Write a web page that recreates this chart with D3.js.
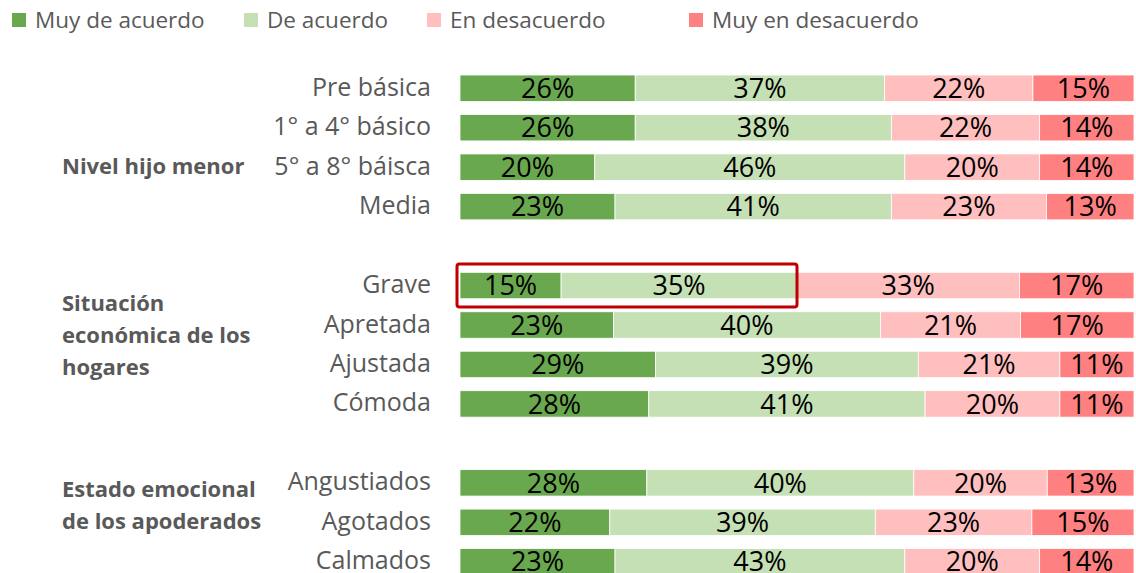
<!DOCTYPE html>
<html>
<head>
<meta charset="utf-8">
<script src="https://cdn.jsdelivr.net/npm/d3@7"></script>
<style>
  body { margin: 0; background: #fff; }
  svg { display: block; font-family: 'Open Sans', sans-serif; }
</style>
</head>
<body>
<script>
const width = 1136
const height = 573

// data
const series = ['Muy de acuerdo', 'De acuerdo', 'En desacuerdo', 'Muy en desacuerdo']
const colors = ['#6AA84F', '#C5E0B4', '#FFBFBF', '#FF8080']

const categories = ['Pre básica', '1° a 4° básico', '5° a 8° báisca', 'Media',
  'Grave', 'Apretada', 'Ajustada', 'Cómoda',
  'Angustiados', 'Agotados', 'Calmados']
const groupOf = [0, 0, 0, 0, 1, 1, 1, 1, 2, 2, 2]
const groupLabels = [
  ['Nivel hijo menor'],
  ['Situación', 'económica de los', 'hogares'],
  ['Estado emocional', 'de los apoderados']
]

const muyDeAcuerdo = [26, 26, 20, 23, 15, 23, 29, 28, 28, 22, 23]
const deAcuerdo = [37, 38, 46, 41, 35, 40, 39, 41, 40, 39, 43]
const enDesacuerdo = [22, 22, 20, 23, 33, 21, 21, 20, 20, 23, 20]
const muyEnDesacuerdo = [15, 14, 14, 13, 17, 17, 11, 11, 13, 15, 14]

const highlighted = 'Grave'

const rows = categories.map((c, i) => ({
  name: c,
  group: groupOf[i],
  [series[0]]: muyDeAcuerdo[i],
  [series[1]]: deAcuerdo[i],
  [series[2]]: enDesacuerdo[i],
  [series[3]]: muyEnDesacuerdo[i]
}))

// slots with a blank between groups
const slots = []
rows.forEach((r, i) => {
  if (i > 0 && r.group !== rows[i - 1].group) slots.push('gap' + r.group)
  slots.push(r.name)
})

const svg = d3.select('body').append('svg')
  .attr('width', width)
  .attr('height', height)

const xScale = d3.scaleLinear()
  .domain([0, 1])
  .range([460, 1134])

const yScale = d3.scaleBand()
  .domain(slots)
  .range([68.5, 581.5])
  .paddingInner(0.33)
  .paddingOuter(0.165)

const color = d3.scaleOrdinal().domain(series).range(colors)

const stacked = d3.stack()
  .keys(series)
  .offset(d3.stackOffsetExpand)(rows)

const layers = svg.append('g').selectAll('g')
  .data(stacked)
  .join('g')
  .attr('fill', d => color(d.key))

layers.selectAll('rect')
  .data(d => d)
  .join('rect')
  .attr('x', d => xScale(d[0]))
  .attr('y', d => yScale(d.data.name))
  .attr('width', d => xScale(d[1]) - xScale(d[0]))
  .attr('height', yScale.bandwidth())
  .attr('stroke', '#fff')
  .attr('stroke-width', 0.8)

layers.selectAll('text')
  .data(d => d.map(p => ({ p, key: d.key })))
  .join('text')
  .attr('x', d => (xScale(d.p[0]) + xScale(d.p[1])) / 2)
  .attr('y', d => yScale(d.p.data.name) + yScale.bandwidth() / 2)
  .attr('dy', '0.36em')
  .attr('text-anchor', 'middle')
  .attr('fill', '#000')
  .attr('font-size', 27)
  .text(d => d.p.data[d.key] + '%')

// category labels
svg.append('g').selectAll('text')
  .data(rows)
  .join('text')
  .attr('x', 431)
  .attr('y', d => yScale(d.name) + yScale.bandwidth() / 2)
  .attr('dy', '0.3em')
  .attr('text-anchor', 'end')
  .attr('fill', '#595959')
  .attr('font-size', 25)
  .text(d => d.name)

// group labels
const shift = [19, -9, -17]
const lineH = 32
groupLabels.forEach((lines, g) => {
  const inGroup = rows.filter(r => r.group === g)
  const mid = (yScale(inGroup[0].name) + yScale(inGroup[inGroup.length - 1].name)) / 2
    + yScale.bandwidth() / 2 + shift[g]
  const t = svg.append('text')
    .attr('x', 62)
    .attr('fill', '#595959')
    .attr('font-size', 22)
    .attr('font-weight', 'bold')
  lines.forEach((l, k) => {
    t.append('tspan')
      .attr('x', 62)
      .attr('y', mid + (k - (lines.length - 1) / 2) * lineH)
      .attr('dy', '0.35em')
      .text(l)
  })
})

// highlight box around the agreeing part of the highlighted row
const hl = stacked[1].find(d => d.data.name === highlighted)
svg.append('rect')
  .attr('x', xScale(0) - 3)
  .attr('y', yScale(highlighted) + yScale.bandwidth() / 2 - 21.5)
  .attr('width', xScale(hl[1]) - xScale(0) + 3)
  .attr('height', 43)
  .attr('rx', 2.5)
  .attr('fill', 'none')
  .attr('stroke', '#C00000')
  .attr('stroke-width', 3)

// legend
const legendX = [12, 244, 427, 689]
const legend = svg.append('g').selectAll('g')
  .data(series)
  .join('g')
  .attr('transform', (d, i) => `translate(${legendX[i]}, 13)`)

legend.append('rect')
  .attr('width', 14)
  .attr('height', 14)
  .attr('fill', d => color(d))

legend.append('text')
  .attr('x', 23)
  .attr('y', 7)
  .attr('dy', '0.35em')
  .attr('fill', '#595959')
  .attr('font-size', 22.5)
  .text(d => d)
</script>
</body>
</html>
